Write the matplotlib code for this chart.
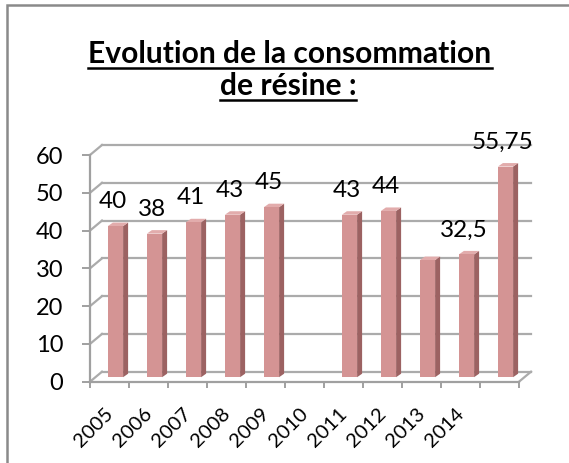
import numpy as np
import matplotlib
matplotlib.use("Agg")
import matplotlib.pyplot as plt
from matplotlib.patches import Polygon, Rectangle
from matplotlib.lines import Line2D
import matplotlib.transforms as mtransforms

plt.rcParams['font.family'] = ['Lato', 'DejaVu Sans']

# ---- data ----
categories = ["2005", "2006", "2007", "2008", "2009", "2010",
              "2011", "2012", "2013", "2014", ""]
values = [40, 38, 41, 43, 45, np.nan, 43, 44, 31, 32.5, 55.75]
value_labels = ["40", "38", "41", "43", "45", "", "43", "44", "", "32,5", "55,75"]
title_lines = ["Evolution de la consommation", "de résine :"]

W, H = 569, 463
fig = plt.figure(figsize=(W / 100, H / 100), dpi=100)

# frame (left and top edges visible)
fig.patches.append(Rectangle((7 / W, -0.1), 1.2, (H - 5) / H + 0.1,
                             transform=fig.transFigure, fill=False,
                             edgecolor='#8a8a8a', linewidth=1.8))

ax = fig.add_axes([90 / W, (H - 381.7) / H, (519 - 90) / W, (381.7 - 155) / H])
n = len(categories)
x = np.arange(n)
ax.set_xlim(-0.5, n - 0.5)
ax.set_ylim(0, 60)
ax.patch.set_alpha(0)

grid_c = '#ababab'
# 3D depth in data units
wdx, wdy = 12 / 39.0, 10 / 3.778      # wall depth
odx, ody = 6 / 39.0, 4.5 / 3.778      # bar placement (middle depth)
sdx, sdy = 5 / 39.0, 3.5 / 3.778      # bar own depth
bw = 0.39

# back wall gridlines and side wall diagonals
for t in range(0, 61, 10):
    ax.add_line(Line2D([-0.5 + wdx, n - 0.5 + wdx], [t + wdy, t + wdy],
                       color=grid_c, lw=1.6, clip_on=False, zorder=1))
    ax.add_line(Line2D([-0.5, -0.5 + wdx], [t, t + wdy],
                       color=grid_c, lw=1.6, clip_on=False, zorder=1))
# floor right edge
ax.add_line(Line2D([n - 0.5, n - 0.5 + wdx], [0, wdy],
                   color=grid_c, lw=1.6, clip_on=False, zorder=1))

# bars
front_c, side_c, top_c = '#d49494', '#9c6262', '#e2acac'
for xi, v in zip(x, values):
    if np.isnan(v):
        continue
    cx = xi + odx
    ax.bar(cx, v, width=bw, bottom=ody, color=front_c, zorder=3,
           clip_on=False, linewidth=0)
    r = cx + bw / 2
    l = cx - bw / 2
    top = v + ody
    ax.add_patch(Polygon([(r, ody), (r, top), (r + sdx, top + sdy), (r + sdx, ody + sdy)],
                         closed=True, facecolor=side_c, edgecolor='none', zorder=2.9,
                         clip_on=False))
    ax.add_patch(Polygon([(l, top), (r, top), (r + sdx, top + sdy), (l + sdx, top + sdy)],
                         closed=True, facecolor=top_c, edgecolor='none', zorder=2.9,
                         clip_on=False))

# value labels
for xi, v, lab in zip(x, values, value_labels):
    if lab == "" or np.isnan(v):
        continue
    ax.annotate(lab, xy=(xi + 0.08, v + ody), xytext=(0, 17.5),
                textcoords='offset points', ha='center', va='center',
                fontsize=17.5, color='black', zorder=5, annotation_clip=False)

# axes styling
for s in ['top', 'right']:
    ax.spines[s].set_visible(False)
for s in ['left', 'bottom']:
    ax.spines[s].set_color('#a0a0a0')
    ax.spines[s].set_linewidth(1.6)
ax.set_yticks(range(0, 61, 10))
ax.tick_params(axis='y', length=5.8, width=1.4, color='#a0a0a0', pad=13.5,
               labelsize=17, labelcolor='black')
ax.set_xticks(x)
ax.set_xticklabels(categories)
ax.set_xticks(np.arange(-0.5, n, 1.0), minor=True)
ax.tick_params(axis='x', which='major', length=0, pad=17, labelsize=14.5)
ax.tick_params(axis='x', which='minor', length=4, width=1.4, color='#a0a0a0')
shift = mtransforms.ScaledTranslation(7 / 100, 0, fig.dpi_scale_trans)
for lbl in ax.get_xticklabels():
    lbl.set_rotation(45)
    lbl.set_ha('right')
    lbl.set_va('top')
    lbl.set_transform(lbl.get_transform() + shift)

# title with underline
t1 = fig.text(290 / W, 1 - 63 / H, title_lines[0], ha='center', va='baseline',
              fontsize=21.6, fontweight='bold')
t2 = fig.text(288 / W, 1 - 95 / H, title_lines[1], ha='center', va='baseline',
              fontsize=21.6, fontweight='bold')
fig.canvas.draw()
r = fig.canvas.get_renderer()
for t, yb in [(t1, 63), (t2, 95)]:
    bb = t.get_window_extent(renderer=r)
    yy = 1 - (yb + 4.5) / H
    fig.add_artist(Line2D([bb.x0 / W, bb.x1 / W], [yy, yy], transform=fig.transFigure,
                          color='black', lw=1.8))

fig.savefig('out.png', dpi=100)
